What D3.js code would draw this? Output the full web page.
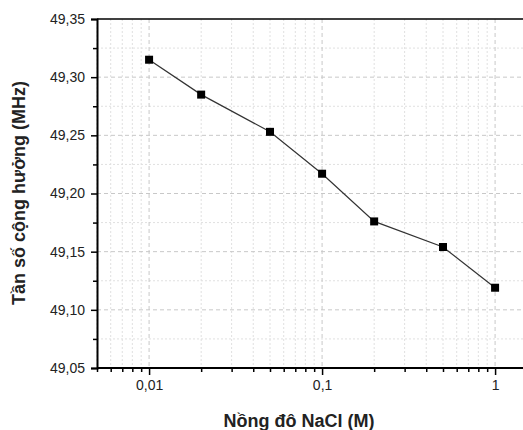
<!DOCTYPE html>
<html><head><meta charset="utf-8">
<script src="https://cdn.jsdelivr.net/npm/d3@7"></script>
<style>body{margin:0;background:#fff}svg{display:block}</style>
</head><body>
<svg id="c" width="523" height="430"></svg>
<script>
const concentrations = [0.01, 0.02, 0.05, 0.1, 0.2, 0.5, 1];
const frequencies = [49.315, 49.285, 49.253, 49.217, 49.176, 49.154, 49.119];
const yTicks = [49.05, 49.10, 49.15, 49.20, 49.25, 49.30, 49.35];
const xTicks = [0.01, 0.1, 1];
const xTickLabels = ["0,01", "0,1", "1"];
const xTitle = "Nồng đô NaCl (M)";
const yTitle = "Tần số cộng hưởng (MHz)";

const svg = d3.select("#c");
const L = 97, R = 523, T = 19, B = 368;
const x = d3.scaleLog().domain([0.005, 1.45]).range([L, R]);
const y = d3.scaleLinear().domain([49.05, 49.35]).range([B, T]);
const fmtY = v => v.toFixed(2).replace(".", ",");

const xMinor = [];
for (let e = -3; e <= 0; e++) for (let m = 2; m <= 9; m++) {
  const v = m * Math.pow(10, e);
  if (v >= 0.005 && v <= 1.45) xMinor.push(v);
}
const yMinor = d3.range(0, 12).map(i => 49.075 + i * 0.05).filter(v => v < 49.35);

const g = svg.append("g");
g.selectAll(".xmg").data(xMinor).join("line")
  .attr("x1", d => x(d)).attr("x2", d => x(d)).attr("y1", T).attr("y2", B)
  .attr("stroke", "#e0e0e0").attr("stroke-width", 1).attr("stroke-dasharray", "2,2");
g.selectAll(".ymg").data(yMinor).join("line")
  .attr("x1", L).attr("x2", R).attr("y1", d => y(d)).attr("y2", d => y(d))
  .attr("stroke", "#e0e0e0").attr("stroke-width", 1).attr("stroke-dasharray", "2,2");
g.selectAll(".xg").data(xTicks).join("line")
  .attr("x1", d => x(d)).attr("x2", d => x(d)).attr("y1", T).attr("y2", B)
  .attr("stroke", "#c8c8c8").attr("stroke-width", 1).attr("stroke-dasharray", "4,3");
g.selectAll(".yg").data(yTicks.slice(1, -1)).join("line")
  .attr("x1", L).attr("x2", R).attr("y1", d => y(d)).attr("y2", d => y(d))
  .attr("stroke", "#c8c8c8").attr("stroke-width", 1).attr("stroke-dasharray", "4,3");

svg.append("line").attr("x1", L).attr("x2", R).attr("y1", T).attr("y2", T)
  .attr("stroke", "#000").attr("stroke-width", 1.5);

const xAxis = svg.append("g").attr("transform", `translate(0,${B})`)
  .call(d3.axisBottom(x).tickValues(xTicks).tickFormat((d, i) => xTickLabels[i]).tickSize(7).tickPadding(5));
const xAxisMinor = svg.append("g").attr("transform", `translate(0,${B})`)
  .call(d3.axisBottom(x).tickValues(xMinor).tickFormat("").tickSize(4));
const yAxis = svg.append("g").attr("transform", `translate(${L},0)`)
  .call(d3.axisLeft(y).tickValues(yTicks).tickFormat(fmtY).tickSize(6).tickPadding(6));
const yAxisMinor = svg.append("g").attr("transform", `translate(${L},0)`)
  .call(d3.axisLeft(y).tickValues(yMinor).tickFormat("").tickSize(4));
[xAxis, xAxisMinor, yAxis, yAxisMinor].forEach(a => {
  a.select(".domain").attr("stroke", "#000").attr("stroke-width", 2);
  a.selectAll(".tick line").attr("stroke", "#000").attr("stroke-width", 1.5);
  a.selectAll("text").attr("font-family", "Liberation Sans, Arial, sans-serif")
    .attr("font-size", 14).attr("fill", "#222");
});
xAxis.select(".domain").attr("d", `M${L},0H${R}`);
xAxisMinor.select(".domain").remove();
yAxisMinor.select(".domain").remove();

const line = d3.line().x((d, i) => x(concentrations[i])).y(d => y(d));
svg.append("path").datum(frequencies).attr("d", line)
  .attr("fill", "none").attr("stroke", "#333").attr("stroke-width", 1.2);
svg.selectAll(".pt").data(frequencies).join("rect")
  .attr("x", (d, i) => x(concentrations[i]) - 4).attr("y", d => y(d) - 4)
  .attr("width", 8).attr("height", 8).attr("fill", "#000");

svg.append("text").attr("x", 299).attr("y", 427).attr("text-anchor", "middle")
  .attr("font-family", "Liberation Sans, Arial, sans-serif").attr("font-weight", "bold")
  .attr("font-size", 18).attr("fill", "#222").text(xTitle);
svg.append("text").attr("transform", `translate(25,193) rotate(-90)`)
  .attr("text-anchor", "middle")
  .attr("font-family", "Liberation Sans, Arial, sans-serif").attr("font-weight", "bold")
  .attr("font-size", 18).attr("fill", "#222").text(yTitle);
</script>
</body></html>
